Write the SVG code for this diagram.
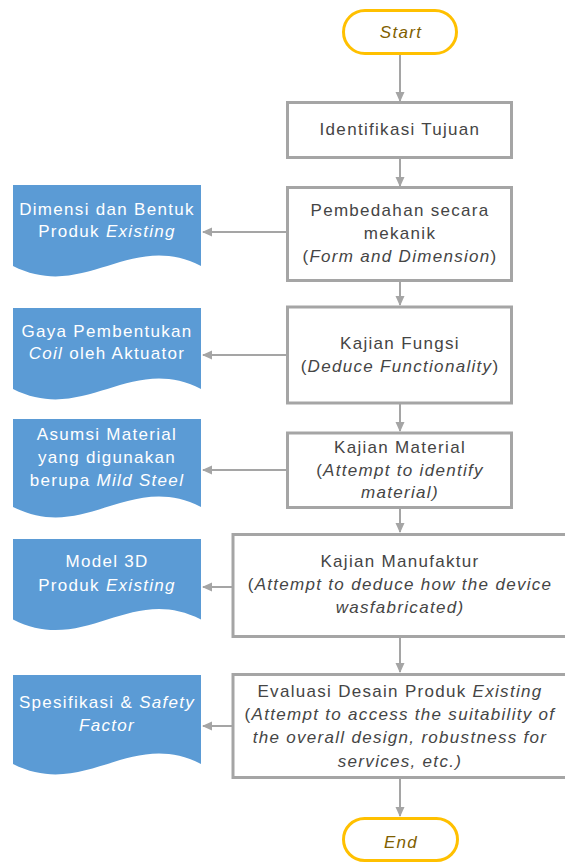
<svg xmlns="http://www.w3.org/2000/svg" width="565" height="863" viewBox="0 0 565 863">
<defs>
<style>
text{font-family:"Liberation Sans",Arial,sans-serif;font-size:17px;letter-spacing:1.3px;text-anchor:middle}
.bx{fill:#fff;stroke:#A5A5A5;stroke-width:3}
.bt{fill:#454545}
.dc{fill:#5B9BD5}
.dt{fill:#fff}
.term{fill:#fff;stroke:#FFC000;stroke-width:3}
.tt{fill:#7F6000;font-style:italic}
.i{font-style:italic}
.cn{stroke:#A5A5A5;stroke-width:2;fill:none}
</style>
<marker id="ah" markerWidth="10" markerHeight="10" refX="9" refY="5" orient="auto" markerUnits="userSpaceOnUse">
<path d="M0,0.5 L10,5 L0,9.5 z" fill="#A5A5A5"/>
</marker>
</defs>
<g id="connectors">
<line class="cn" x1="400" y1="54" x2="400" y2="101" marker-end="url(#ah)"/>
<line class="cn" x1="400" y1="158" x2="400" y2="186" marker-end="url(#ah)"/>
<line class="cn" x1="400" y1="281" x2="400" y2="305" marker-end="url(#ah)"/>
<line class="cn" x1="400" y1="404" x2="400" y2="431" marker-end="url(#ah)"/>
<line class="cn" x1="400" y1="508" x2="400" y2="532" marker-end="url(#ah)"/>
<line class="cn" x1="400" y1="638" x2="400" y2="672" marker-end="url(#ah)"/>
<line class="cn" x1="400" y1="779" x2="400" y2="816" marker-end="url(#ah)"/>
<line class="cn" x1="286" y1="232" x2="203" y2="232" marker-end="url(#ah)"/>
<line class="cn" x1="286" y1="355" x2="203" y2="355" marker-end="url(#ah)"/>
<line class="cn" x1="286" y1="470" x2="203" y2="470" marker-end="url(#ah)"/>
<line class="cn" x1="232" y1="587" x2="203" y2="587" marker-end="url(#ah)"/>
<line class="cn" x1="232" y1="726" x2="203" y2="726" marker-end="url(#ah)"/>
</g>
<g id="start">
<rect class="term" x="343.5" y="10.5" width="113" height="43" rx="21.5"/>
<text class="tt" x="401" y="38">Start</text>
</g>
<g id="identifikasi">
<rect class="bx" x="287.5" y="102.5" width="224" height="55"/>
<text class="bt" x="400" y="135">Identifikasi Tujuan</text>
</g>
<g id="pembedahan">
<rect class="bx" x="287.5" y="187.5" width="224" height="93"/>
<text class="bt" x="400" y="216">Pembedahan secara</text>
<text class="bt" x="400" y="239">mekanik</text>
<text class="bt" x="400" y="262">(<tspan class="i">Form and Dimension</tspan>)</text>
</g>
<g id="fungsi">
<rect class="bx" x="287.5" y="307" width="224" height="96"/>
<text class="bt" x="400" y="349">Kajian Fungsi</text>
<text class="bt" x="400" y="372">(<tspan class="i">Deduce Functionality</tspan>)</text>
</g>
<g id="material">
<rect class="bx" x="287.5" y="433" width="224" height="74.5"/>
<text class="bt" x="400" y="453">Kajian Material</text>
<text class="bt" x="400" y="475.5">(<tspan class="i">Attempt to identify</tspan></text>
<text class="bt i" x="400" y="498">material)</text>
</g>
<g id="manufaktur">
<rect class="bx" x="233" y="534.5" width="336" height="102"/>
<text class="bt" x="400" y="567">Kajian Manufaktur</text>
<text class="bt" x="400" y="590">(<tspan class="i">Attempt to deduce how the device</tspan></text>
<text class="bt i" x="400" y="613">wasfabricated)</text>
</g>
<g id="evaluasi">
<rect class="bx" x="233" y="674.5" width="336" height="103"/>
<text class="bt" x="400" y="697">Evaluasi Desain Produk <tspan class="i">Existing</tspan></text>
<text class="bt" x="400" y="720">(<tspan class="i">Attempt to access the suitability of</tspan></text>
<text class="bt i" x="400" y="743">the overall design, robustness for</text>
<text class="bt i" x="400" y="766.5">services, etc.)</text>
</g>
<g id="end">
<rect class="term" x="343.5" y="818.5" width="114" height="42" rx="21"/>
<text class="tt" x="401" y="848">End</text>
</g>
<g id="doc-dimensi">
<path class="dc" d="M13,185 H201 V266 C130,230 85,302 13,266 Z"/>
<text class="dt" x="107" y="215">Dimensi dan Bentuk</text>
<text class="dt" x="107" y="237">Produk <tspan class="i">Existing</tspan></text>
</g>
<g id="doc-gaya">
<path class="dc" d="M13,308 H201 V389 C130,353 85,425 13,389 Z"/>
<text class="dt" x="107" y="337">Gaya Pembentukan</text>
<text class="dt" x="107" y="359"><tspan class="i">Coil</tspan> oleh Aktuator</text>
</g>
<g id="doc-asumsi">
<path class="dc" d="M13,419 H201 V507 C130,471 85,543 13,507 Z"/>
<text class="dt" x="107" y="440">Asumsi Material</text>
<text class="dt" x="107" y="463">yang digunakan</text>
<text class="dt" x="107" y="485.5">berupa <tspan class="i">Mild Steel</tspan></text>
</g>
<g id="doc-model">
<path class="dc" d="M13,539 H201 V619.5 C130,583 85,656 13,619.5 Z"/>
<text class="dt" x="107" y="567">Model 3D</text>
<text class="dt" x="107" y="591">Produk <tspan class="i">Existing</tspan></text>
</g>
<g id="doc-spesifikasi">
<path class="dc" d="M13,675 H201 V764 C130,728 85,800 13,764 Z"/>
<text class="dt" x="107" y="708">Spesifikasi &amp; <tspan class="i">Safety</tspan></text>
<text class="dt i" x="107" y="731">Factor</text>
</g>
</svg>
